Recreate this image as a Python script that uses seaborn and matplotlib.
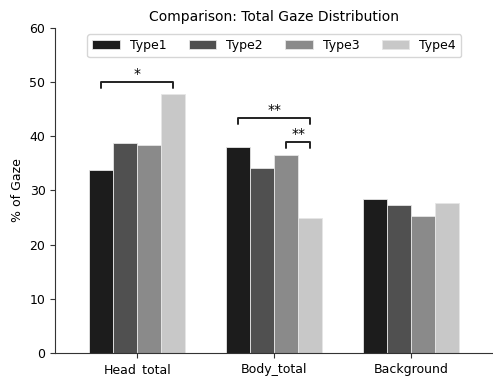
import matplotlib
matplotlib.use("Agg")
import matplotlib.pyplot as plt
import seaborn as sns
import pandas as pd

categories = ["Head_total", "Body_total", "Background"]
types = ["Type1", "Type2", "Type3", "Type4"]
type1 = [33.8, 38.0, 28.4]
type2 = [38.8, 34.2, 27.3]
type3 = [38.4, 36.5, 25.3]
type4 = [47.8, 24.9, 27.7]
colors = ["#1c1c1c", "#505050", "#8a8a8a", "#c8c8c8"]

# significance brackets: (category index, type a, type b, bracket y, label)
sig = [(0, 0, 3, 50.0, "*"), (1, 0, 3, 43.4, "**"), (1, 2, 3, 39.0, "**")]

rows = []
for t, vals in zip(types, [type1, type2, type3, type4]):
    for c, v in zip(categories, vals):
        rows.append({"Region": c, "Type": t, "Gaze": v})
df = pd.DataFrame(rows)

sns.set_style("ticks", {"axes.edgecolor": "#333333", "text.color": "black",
                        "xtick.color": "#333333", "ytick.color": "#333333",
                        "axes.labelcolor": "black"})
plt.rcParams["font.family"] = ["DejaVu Sans"]
fig = plt.figure(figsize=(4.93, 3.76), dpi=100)
ax = fig.add_axes([0.112, 0.061, 0.888, 0.865])
sns.barplot(data=df, x="Region", y="Gaze", hue="Type", order=categories,
            hue_order=types, palette=colors, width=0.7, ax=ax,
            edgecolor="#e6e6e6", linewidth=0.6, saturation=1, errorbar=None)

ax.set_ylim(0, 60)
ax.set_xlim(-0.6, 2.6)
ax.set_yticks(range(0, 61, 10))
ax.set_xlabel("")
ax.set_ylabel("% of Gaze", fontsize=9, color="black")
ax.set_title("Comparison: Total Gaze Distribution", fontsize=10, pad=5, color="black")
ax.tick_params(labelsize=9, labelcolor="black")
sns.despine(ax=ax)

nb = len(types)
bw = 0.7 / nb
def xpos(ci, ti):
    return ci - 0.35 + bw * (ti + 0.5)

for ci, a, b, y, lab in sig:
    x1, x2 = xpos(ci, a), xpos(ci, b)
    ax.plot([x1, x1, x2, x2], [y - 1.1, y, y, y - 1.1], color="#222222", lw=1.4)
    ax.text((x1 + x2) / 2, y + 0.2, lab, ha="center", va="bottom", fontsize=10, color="black")

leg = ax.legend(loc="upper center", ncol=4, fontsize=9, frameon=True,
                bbox_to_anchor=(0.5, 1.0), handlelength=2.2, columnspacing=1.8)
for t in leg.get_texts():
    t.set_color("black")
fig.savefig("out.png", dpi=100)
